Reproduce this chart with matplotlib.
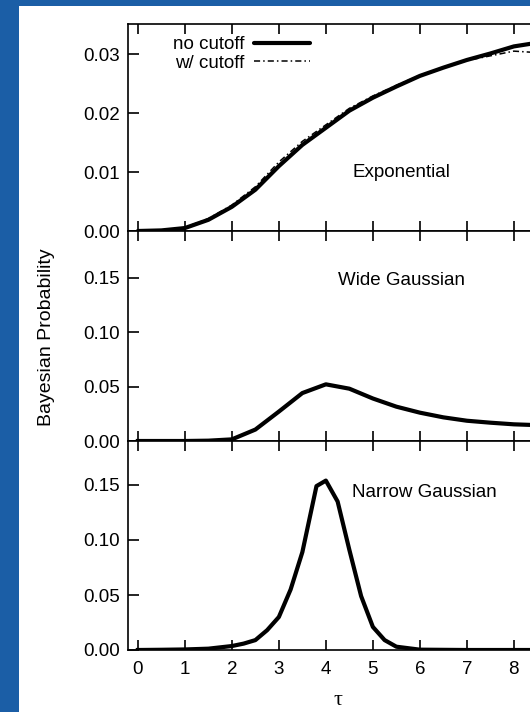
import matplotlib.pyplot as plt
from matplotlib.patches import Rectangle

plt.rcParams['font.family'] = ['Liberation Sans', 'DejaVu Sans']

# exponential prior, cumulative-ish probability
tau_exp = [0.0, 0.5, 1.0, 1.5, 2.0, 2.5, 3.0, 3.5, 4.0, 4.5, 5.0, 5.5, 6.0, 6.5, 7.0, 7.5, 8.0, 8.4]
exp_nocut = [0.0, 0.0001, 0.0005, 0.0019, 0.0041, 0.0070, 0.0110, 0.0146, 0.0175, 0.0204, 0.0226, 0.0245,
             0.0263, 0.0277, 0.0290, 0.0301, 0.0313, 0.0318]
exp_cut = [0.0, 0.0001, 0.0006, 0.0021, 0.0044, 0.0075, 0.0117, 0.0152, 0.0180, 0.0208, 0.0229, 0.0247,
           0.0264, 0.0277, 0.0289, 0.0297, 0.0305, 0.0303]

# wide gaussian
tau_wide = [0.0, 0.5, 1.0, 1.5, 2.0, 2.5, 3.0, 3.5, 4.0, 4.5, 5.0, 5.5, 6.0, 6.5, 7.0, 7.5, 8.0, 8.4]
wide_nocut = [0.0, 0.0, 0.0, 0.0003, 0.0015, 0.0105, 0.027, 0.044, 0.052, 0.048, 0.039, 0.0315, 0.026,
              0.0217, 0.0186, 0.0168, 0.0153, 0.0147]

# narrow gaussian
tau_nar = [0.0, 0.5, 1.0, 1.5, 2.0, 2.25, 2.5, 2.75, 3.0, 3.25, 3.5, 3.8, 4.0, 4.25, 4.5, 4.75, 5.0,
           5.25, 5.5, 6.0, 7.0, 8.0, 8.4]
nar_nocut = [0.0, 0.0002, 0.0005, 0.0012, 0.0036, 0.0058, 0.009, 0.018, 0.030, 0.055, 0.089, 0.149, 0.154,
             0.135, 0.091, 0.049, 0.021, 0.009, 0.003, 0.0003, 0.0, 0.0, 0.0]

FS = 13.5
W, H = 530, 712
fig = plt.figure(figsize=(5.3, 7.12), dpi=100)
fig.patch.set_facecolor('#1b5ea6')
fig.patches.append(Rectangle((19 / W, 0), 1, 1 - 6 / H, transform=fig.transFigure,
                             facecolor='white', edgecolor='none', zorder=-10))

x0, x1 = -0.21, 8.73
left = 128 / W
width = (47 * (x1 - x0)) / W  # axes run past the right edge (cropped)
bounds = [(24, 231), (231, 441), (441, 650)]
axes = []
for top, bot in bounds:
    ax = fig.add_axes([left, 1 - bot / H, width, (bot - top) / H])
    axes.append(ax)

ax1, ax2, ax3 = axes
l1, = ax1.plot(tau_exp, exp_nocut, color='black', lw=3, solid_capstyle='round')
l2, = ax1.plot(tau_exp, exp_cut, color='black', lw=1.1, ls=(0, (4, 2, 1, 2)))
ax1.set_ylim(0, 0.0351)
ax1.set_yticks([0.0, 0.01, 0.02, 0.03])
ax1.text(5.6, 0.01, 'Exponential', ha='center', va='center', fontsize=FS)
ax1.legend([l1, l2], ['no cutoff', 'w/ cutoff'], loc='upper left', bbox_to_anchor=(0.075, 1.005),
           frameon=False, markerfirst=False, fontsize=FS, handlelength=3.0, handletextpad=0.5,
           labelspacing=0.08, borderpad=0.2)

ax2.plot(tau_wide, wide_nocut, color='black', lw=3)
ax2.set_ylim(0, 0.1927)
ax2.set_yticks([0.0, 0.05, 0.10, 0.15])
ax2.text(5.6, 0.147, 'Wide Gaussian', ha='center', va='center', fontsize=FS)

ax3.plot(tau_nar, nar_nocut, color='black', lw=3)
ax3.set_ylim(0, 0.190)
ax3.set_yticks([0.0, 0.05, 0.10, 0.15])
ax3.text(4.55, 0.143, 'Narrow Gaussian', ha='left', va='center', fontsize=FS)

for ax in axes:
    ax.set_xlim(x0, x1)
    ax.set_xticks(range(0, 9))
    ax.set_yticklabels([f'{v:.2f}' for v in ax.get_yticks()])
    ax.tick_params(direction='in', length=7, width=1.2, top=True, bottom=True, labelsize=FS)
    ax.tick_params(axis='x', pad=8)
    ax.tick_params(axis='y', length=8, pad=6)
    for s in ax.spines.values():
        s.set_linewidth(1.2)
    if ax is not ax3:
        ax.tick_params(labelbottom=False)

ax3.set_xlabel('τ', family=['Liberation Serif', 'DejaVu Serif'], fontsize=16, labelpad=9)
fig.text(47 / W, 1 - 337 / H, 'Bayesian Probability', rotation=90, ha='center', va='center', fontsize=14)

fig.savefig('out.png', dpi=100, facecolor=fig.get_facecolor())
